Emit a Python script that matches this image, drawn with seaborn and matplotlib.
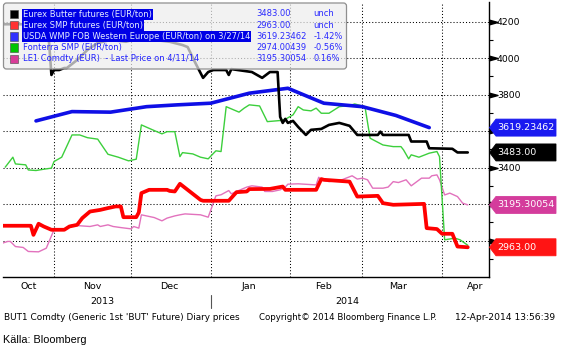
import numpy as np
import pandas as pd
import matplotlib
matplotlib.use("Agg")
import matplotlib.pyplot as plt
import matplotlib.transforms as mtransforms
from matplotlib.patches import Polygon, Rectangle, FancyBboxPatch
from matplotlib.lines import Line2D
import seaborn as sns

# ---------------- data ----------------
butter_dates = ['2013-10-12','2013-10-29','2013-10-30','2013-10-31','2013-11-01','2013-11-03','2013-11-05',
                '2013-11-06','2013-11-10','2013-11-14','2013-11-18','2013-11-23','2013-11-29','2013-12-04',
                '2013-12-10','2013-12-16','2013-12-21','2013-12-23','2013-12-26','2013-12-29','2013-12-31',
                '2014-01-02','2014-01-07','2014-01-08','2014-01-09','2014-01-17','2014-01-21','2014-01-24',
                '2014-01-27','2014-01-28','2014-01-29','2014-01-30','2014-01-31','2014-02-02','2014-02-04',
                '2014-02-07','2014-02-09','2014-02-13','2014-02-16','2014-02-20','2014-02-24','2014-02-27',
                '2014-03-07','2014-03-08','2014-03-09','2014-03-19','2014-03-20','2014-03-26','2014-03-27',
                '2014-04-05','2014-04-07','2014-04-11']
butter_vals = [4186,4186,4100,3908,3935,3935,3946,
               3946,3990,4045,4083,4100,4090,4110,
               4100,4090,4072,4061,3974,3892,3924,
               3935,3935,3908,3940,3924,3892,3924,
               3924,3678,3645,3667,3645,3656,3623,
               3579,3607,3612,3634,3645,3629,3579,
               3579,3597,3579,3579,3543,3543,3506,
               3503,3483,3483.00]

smp_dates = ['2013-10-12','2013-10-23','2013-10-24','2013-10-26','2013-10-28','2013-10-31','2013-11-05',
             '2013-11-07','2013-11-10','2013-11-12','2013-11-15','2013-11-19','2013-11-22','2013-11-25',
             '2013-11-27','2013-11-28','2013-12-03','2013-12-04','2013-12-05','2013-12-08','2013-12-15',
             '2013-12-16','2013-12-18','2013-12-20','2013-12-28','2013-12-29','2014-01-08','2014-01-11',
             '2014-01-15','2014-01-16','2014-01-24','2014-01-29','2014-01-30','2014-02-11','2014-02-13',
             '2014-02-14','2014-02-24','2014-02-27','2014-03-07','2014-03-09','2014-03-13','2014-03-25',
             '2014-03-26','2014-03-30','2014-04-01','2014-04-05','2014-04-07','2014-04-11']
smp_vals = [3081,3081,3031,3092,3077,3059,3059,
            3077,3086,3123,3159,3168,3178,3187,
            3187,3128,3128,3154,3260,3278,3278,
            3272,3269,3311,3223,3218,3218,3265,
            3269,3282,3283,3296,3278,3278,3337,
            3333,3323,3241,3245,3205,3196,3201,
            3068,3063,3037,3037,2967,2963.00]

wmp_dates = ['2013-10-25','2013-11-08','2013-11-23','2013-12-07','2013-12-19','2014-01-01',
             '2014-01-16','2014-01-31','2014-02-14','2014-03-01','2014-03-14','2014-03-27']
wmp_vals = [3656,3707,3704,3734,3744,3753,3808,3835,3753,3734,3686,3619.23462]

fonterra_dates = ['2013-10-13','2013-10-16','2013-10-17','2013-10-21','2013-10-22','2013-10-25','2013-10-28',
                  '2013-10-31','2013-11-01','2013-11-04','2013-11-08','2013-11-11','2013-11-14','2013-11-18',
                  '2013-11-22','2013-11-26','2013-11-30','2013-12-03','2013-12-05','2013-12-10','2013-12-13',
                  '2013-12-15','2013-12-18','2013-12-20','2013-12-21','2013-12-25','2013-12-28','2013-12-31',
                  '2014-01-03','2014-01-05','2014-01-07','2014-01-12','2014-01-14','2014-01-16','2014-01-20',
                  '2014-01-23','2014-01-28','2014-01-30','2014-02-02','2014-02-04','2014-02-06','2014-02-09',
                  '2014-02-11','2014-02-13','2014-02-16','2014-02-20','2014-02-24','2014-02-26','2014-03-02',
                  '2014-03-04','2014-03-09','2014-03-13','2014-03-16','2014-03-17','2014-03-19','2014-03-20',
                  '2014-03-23','2014-03-27','2014-03-30','2014-03-31','2014-04-02','2014-04-06','2014-04-08',
                  '2014-04-11']
fonterra_vals = [3402,3457,3420,3415,3387,3384,3391,
                 3397,3433,3457,3579,3579,3564,3556,
                 3473,3457,3437,3446,3634,3603,3585,
                 3597,3597,3460,3482,3475,3457,3448,
                 3492,3488,3734,3704,3726,3744,3738,
                 3652,3658,3665,3689,3734,3716,3711,
                 3726,3698,3698,3734,3740,3749,3734,
                 3561,3524,3515,3515,3497,3448,3470,
                 3457,3479,3488,3460,3004,3013,3004,
                 2974.00439]

le1_dates = ['2013-10-12','2013-10-14','2013-10-15','2013-10-17','2013-10-20','2013-10-22','2013-10-26',
             '2013-10-29','2013-11-01','2013-11-05','2013-11-08','2013-11-11','2013-11-15','2013-11-18',
             '2013-11-19','2013-11-22','2013-11-24','2013-11-27','2013-12-01','2013-12-02','2013-12-04',
             '2013-12-05','2013-12-10','2013-12-13','2013-12-15','2013-12-18','2013-12-20','2013-12-22',
             '2013-12-28','2013-12-31','2014-01-03','2014-01-05','2014-01-08','2014-01-09','2014-01-11',
             '2014-01-15','2014-01-17','2014-01-21','2014-01-22','2014-01-25','2014-01-28','2014-01-30',
             '2014-01-31','2014-02-04','2014-02-11','2014-02-12','2014-02-13','2014-02-16','2014-02-21',
             '2014-02-25','2014-02-27','2014-03-01','2014-03-03','2014-03-05','2014-03-09','2014-03-11',
             '2014-03-13','2014-03-15','2014-03-18','2014-03-20','2014-03-24','2014-03-27','2014-03-28',
             '2014-03-30','2014-03-31','2014-04-02','2014-04-04','2014-04-07','2014-04-09','2014-04-11']
le1_vals = [2986,2995,2995,2967,2962,2940,2938,
            2958,3059,3063,3086,3081,3077,3086,
            3077,3086,3077,3071,3064,3077,3068,
            3141,3126,3108,3123,3135,3141,3146,
            3141,3128,3245,3251,3274,3256,3269,
            3293,3300,3293,3269,3269,3278,3293,
            3309,3311,3305,3347,3333,3323,3333,
            3355,3337,3342,3333,3287,3287,3293,
            3323,3318,3333,3300,3342,3342,3355,
            3360,3333,3250,3260,3241,3205,3195.30054]

legend_labels = ['Eurex Butter futures (EUR/ton)', 'Eurex SMP futures (EUR/ton)',
                 'USDA WMP FOB Western Europe (EUR/ton) on 3/27/14', 'Fonterra SMP (EUR/ton)',
                 'LE1 Comdty (EUR)  - Last Price on 4/11/14']
legend_values = ['3483.00', '2963.00', '3619.23462', '2974.00439', '3195.30054']
legend_changes = ['unch', 'unch', '-1.42%', '-0.56%', '0.16%']

y_major = [3000, 3200, 3400, 3600, 3800, 4000, 4200]
y_major_labels = ['', '', '3400', '', '3800', '4000', '4200']   # 3000/3200/3600 sit under the value boxes
y_minor = [2900, 3100, 3300, 3500, 3700, 3900, 4100]
month_starts = ['2013-11-01', '2013-12-01', '2014-01-01', '2014-02-01', '2014-03-01', '2014-04-01']
month_labels = ['Oct', 'Nov', 'Dec', 'Jan', 'Feb', 'Mar', 'Apr']
month_label_dates = ['2013-10-22', '2013-11-16', '2013-12-16', '2014-01-16', '2014-02-14', '2014-03-15', '2014-04-14']
year_labels = ['2013', '2014']
year_label_dates = ['2013-11-20', '2014-02-23']

# ---------------- figure ----------------
W, H = 563, 349
sns.set_style("white")
plt.rcParams['font.family'] = ['DejaVu Sans']

fig = plt.figure(figsize=(W / 100, H / 100), dpi=100)
fig.patch.set_facecolor('white')
AX_L, AX_R, AX_T, AX_B = 2.5, 489.0, 2.0, 277.0
ax = fig.add_axes([AX_L / W, 1 - AX_B / H, (AX_R - AX_L) / W, (AX_B - AX_T) / H])
ax.set_facecolor('white')

px = mtransforms.Affine2D().scale(1 / W, -1 / H).translate(0, 1) + fig.transFigure

series = [
    (le1_dates, le1_vals, '#e272bd', 1.0, 2),
    (fonterra_dates, fonterra_vals, '#3ccf3c', 1.0, 3),
    (wmp_dates, wmp_vals, '#0f0fe6', 2.6, 4),
    (smp_dates, smp_vals, '#ff0000', 2.7, 5),
    (butter_dates, butter_vals, '#000000', 1.9, 6),
]
for d, v, c, lw, z in series:
    sns.lineplot(x=pd.to_datetime(d), y=v, ax=ax, color=c, linewidth=lw, zorder=z)

YMIN, YMAX = 2800, 4308
x0 = pd.Timestamp('2013-11-01') - pd.Timedelta(days=20.04)
x1 = pd.Timestamp('2013-11-01') + pd.Timedelta(days=169.26)

dot = (0, (1, 2))
for yv in y_major:
    ax.axhline(yv, color='black', lw=0.75, ls=dot, zorder=1)
for ms in pd.to_datetime(month_starts):
    ax.axvline(ms, color='black', lw=0.75, ls=dot, zorder=1)

ax.set_xlim(x0, x1)
ax.set_ylim(YMIN, YMAX)
ax.set_xlabel('')
ax.set_ylabel('')

for s in ['left', 'top']:
    ax.spines[s].set_visible(False)
for s in ['right', 'bottom']:
    ax.spines[s].set_visible(True)
    ax.spines[s].set_color('black')
    ax.spines[s].set_linewidth(1.0)

# y axis on right
ax.yaxis.tick_right()
ax.set_yticks(y_major)
ax.set_yticks(y_minor, minor=True)
ax.set_yticklabels(y_major_labels)
ax.tick_params(axis='y', which='major', length=0, pad=5.8, labelsize=6.7, labelcolor='black')
ax.tick_params(axis='y', which='minor', length=2.6, width=0.8, color='black', direction='out')
tri = mtransforms.blended_transform_factory(ax.transAxes, ax.transData) + \
    mtransforms.ScaledTranslation(4 / 100, 0, fig.dpi_scale_trans)
ax.plot([1] * len(y_major), y_major, ls='none', marker=[(-1, -0.55), (1, 0), (-1, 0.55)],
        ms=6.5, color='black', transform=tri, clip_on=False)

# x axis
ax.set_xticks(pd.to_datetime(month_starts))
ax.set_xticklabels([''] * len(month_starts))
ax.tick_params(axis='x', which='major', length=3, width=0.8, color='black', direction='out')
ax.tick_params(axis='x', which='minor', length=0)
AXH = AX_B - AX_T
bt = mtransforms.blended_transform_factory(ax.transData, ax.transAxes)
for lab, d in zip(month_labels, pd.to_datetime(month_label_dates)):
    ax.text(d, -9.5 / AXH, lab, transform=bt, ha='center', va='center', fontsize=6.8, color='black')
for lab, d in zip(year_labels, pd.to_datetime(year_label_dates)):
    ax.text(d, -24.5 / AXH, lab, transform=bt, ha='center', va='center', fontsize=6.8, color='black')
ax.add_line(Line2D([pd.Timestamp('2014-01-01')] * 2, [-18 / AXH, -30.5 / AXH], transform=bt,
                   color='#555555', lw=0.8, clip_on=False))

# right value boxes
box_vals = [3619.23462, 3483.00, 3195.30054, 2963.00]
box_texts = ['3619.23462', '3483.00', '3195.30054', '2963.00']
box_colors = ['#1a1af0', '#000000', '#d43c9c', '#ff1414']
for v, t, c in zip(box_vals, box_texts, box_colors):
    yc = AX_T + (YMAX - v) / (YMAX - YMIN) * AXH
    poly = Polygon([(489.5, yc), (496, yc - 8.5), (556, yc - 8.5), (556, yc + 8.5), (496, yc + 8.5)],
                   closed=True, transform=px, fc=c, ec=c, lw=0.6, zorder=4)
    fig.add_artist(poly)
    fig.text(497.5, yc, t, transform=px, color='white', fontsize=6.8, va='center', ha='left', zorder=5)

# legend block
leg = FancyBboxPatch((3.5, 3.0), 343, 66, boxstyle='round,pad=0,rounding_size=3', transform=px,
                     fc=(0.93, 0.93, 0.93, 0.72), ec='#8f8f8f', lw=0.9, zorder=2)
fig.add_artist(leg)
rows = [14.0, 25.2, 36.4, 47.6, 58.8]
sq_colors = ['#000000', '#ff3232', '#3232ff', '#00c400', '#d83c98']
label_texts = []
LFS = 6.05
for i, (yc, lab, val, ch, sc) in enumerate(zip(rows, legend_labels, legend_values, legend_changes, sq_colors)):
    fig.add_artist(Rectangle((9.5, yc - 4.2), 8.5, 8.4, transform=px, fc=sc, ec='#444444', lw=0.4, zorder=3))
    tc = '#e4ecff' if i < 3 else '#2323ff'
    t = fig.text(22.7, yc, lab, transform=px, color=tc, fontsize=LFS, va='center', ha='left', zorder=6)
    label_texts.append(t)
    fig.text(256.7, yc, val, transform=px, color='#2a2aff', fontsize=LFS, va='center', ha='left', zorder=6)
    fig.text(313.3, yc, ch, transform=px, color='#2a2aff', fontsize=LFS, va='center', ha='left', zorder=6)

fig.canvas.draw()
r = fig.canvas.get_renderer()
edges = [8.8, 19.6, 30.8, 42.0]
for i in range(3):
    bb = label_texts[i].get_window_extent(r)
    fig.add_artist(Rectangle((22.0, edges[i]), bb.x1 + 1 - 22.0, edges[i + 1] - edges[i], transform=px,
                             fc='#0000e6', ec='none', zorder=5))

# footer
fig.text(4, 317, "BUT1 Comdty (Generic 1st 'BUT' Future) Diary prices", transform=px,
         fontsize=6.4, va='center', ha='left', color='black')
fig.text(259, 317, "Copyright\u00a9 2014 Bloomberg Finance L.P.", transform=px,
         fontsize=6.2, va='center', ha='left', color='black')
fig.text(555, 317, "12-Apr-2014 13:56:39", transform=px,
         fontsize=6.6, va='center', ha='right', color='black')
fig.text(3, 340, "Källa: Bloomberg", transform=px, fontsize=7.8, va='center', ha='left',
         color='black', family=['Liberation Sans', 'DejaVu Sans'])

fig.savefig('out.png', dpi=100, facecolor='white')
